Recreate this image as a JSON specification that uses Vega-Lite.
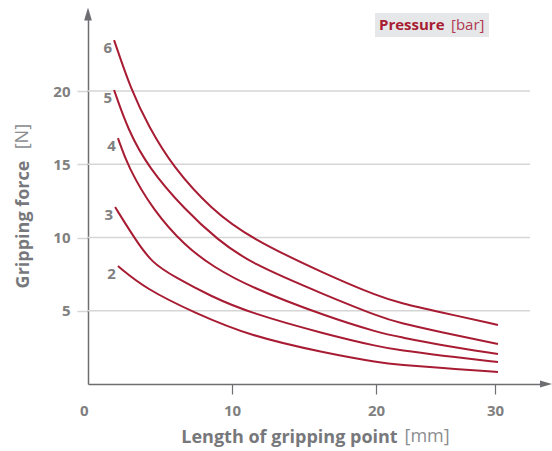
{
  "$schema": "https://vega.github.io/schema/vega-lite/v6.json",
  "width": 458,
  "height": 370,
  "autosize": "none",
  "padding": {"left": 88, "top": 14, "right": 6, "bottom": 67},
  "background": "white",
  "config": {"view": {"stroke": null}, "font": "Open Sans"},
  "datasets": {
    "curves": [
      {"p": "6", "x": 1.81, "y": 23.48}, {"p": "6", "x": 2.99, "y": 20.07}, {"p": "6", "x": 4.2, "y": 17.6}, {"p": "6", "x": 5.9, "y": 14.81}, {"p": "6", "x": 8.61, "y": 11.88}, {"p": "6", "x": 11.25, "y": 9.97}, {"p": "6", "x": 16.46, "y": 7.51}, {"p": "6", "x": 20.34, "y": 5.94}, {"p": "6", "x": 22.02, "y": 5.53}, {"p": "6", "x": 25.38, "y": 4.91}, {"p": "6", "x": 30.25, "y": 4.03},
      {"p": "5", "x": 1.81, "y": 20.07}, {"p": "5", "x": 2.78, "y": 17.34}, {"p": "5", "x": 4.17, "y": 14.81}, {"p": "5", "x": 6.74, "y": 11.88}, {"p": "5", "x": 9.0, "y": 9.85}, {"p": "5", "x": 11.25, "y": 8.26}, {"p": "5", "x": 16.46, "y": 6.08}, {"p": "5", "x": 20.34, "y": 4.57}, {"p": "5", "x": 22.02, "y": 4.16}, {"p": "5", "x": 25.38, "y": 3.55}, {"p": "5", "x": 30.25, "y": 2.73},
      {"p": "4", "x": 2.08, "y": 16.79}, {"p": "4", "x": 2.78, "y": 14.81}, {"p": "4", "x": 4.51, "y": 11.88}, {"p": "4", "x": 6.74, "y": 9.42}, {"p": "4", "x": 8.7, "y": 8.0}, {"p": "4", "x": 11.25, "y": 6.62}, {"p": "4", "x": 16.46, "y": 4.64}, {"p": "4", "x": 20.34, "y": 3.48}, {"p": "4", "x": 22.02, "y": 3.21}, {"p": "4", "x": 25.38, "y": 2.66}, {"p": "4", "x": 30.25, "y": 2.05},
      {"p": "3", "x": 1.88, "y": 12.08}, {"p": "3", "x": 3.26, "y": 9.9}, {"p": "3", "x": 4.44, "y": 8.26}, {"p": "3", "x": 6.04, "y": 7.3}, {"p": "3", "x": 8.5, "y": 6.0}, {"p": "3", "x": 11.25, "y": 4.85}, {"p": "3", "x": 16.46, "y": 3.41}, {"p": "3", "x": 20.34, "y": 2.53}, {"p": "3", "x": 22.02, "y": 2.3}, {"p": "3", "x": 25.38, "y": 1.95}, {"p": "3", "x": 30.25, "y": 1.5},
      {"p": "2", "x": 2.08, "y": 8.05}, {"p": "2", "x": 4.03, "y": 6.48}, {"p": "2", "x": 7.43, "y": 4.85}, {"p": "2", "x": 11.25, "y": 3.28}, {"p": "2", "x": 16.46, "y": 2.12}, {"p": "2", "x": 20.34, "y": 1.45}, {"p": "2", "x": 22.02, "y": 1.32}, {"p": "2", "x": 25.38, "y": 1.1}, {"p": "2", "x": 30.25, "y": 0.82}
    ],
    "grid": [{"g": 5}, {"g": 10}, {"g": 15}, {"g": 20}]
  },
  "layer": [
    {
      "data": {"name": "grid"},
      "mark": {"type": "rule", "color": "#d6d6d6", "strokeWidth": 1.5},
      "encoding": {
        "y": {
          "field": "g", "type": "quantitative",
          "scale": {"domain": [0, 25.26], "nice": false, "zero": false},
          "axis": {
            "title": "Gripping force",
            "values": [5, 10, 15, 20],
            "grid": false,
            "domainColor": "#6d6e71", "domainWidth": 1.5,
            "tickColor": "#d6d6d6", "tickSize": 11, "tickWidth": 1.5,
            "labelFont": "Open Sans", "labelFontWeight": "bold", "labelFontSize": 15, "labelColor": "#808080", "labelPadding": 7,
            "titleFont": "Open Sans", "titleFontWeight": "bold", "titleFontSize": 18, "titleColor": "#77787b",
            "titleX": -60, "titleY": 210, "titleBaseline": "alphabetic", "titleAlign": "center", "titleAngle": 270
          }
        },
        "x": {
          "datum": 0, "type": "quantitative",
          "scale": {"domain": [0, 10, 20, 30, 34.29], "range": [0, 144, 288, 407, 458], "nice": false, "zero": false},
          "axis": {
            "title": "Length of gripping point",
            "values": [0, 10, 20, 30],
            "grid": false,
            "domainColor": "#6d6e71", "domainWidth": 1.5,
            "tickColor": "#6d6e71", "tickSize": 10, "tickWidth": 1.2,
            "tickOpacity": {"condition": {"test": "datum.value === 0", "value": 0}, "value": 1},
            "labelAlign": {"condition": {"test": "datum.value === 0", "value": "right"}, "value": "center"},
            "labelFont": "Open Sans", "labelFontWeight": "bold", "labelFontSize": 15, "labelColor": "#808080", "labelPadding": 9,
            "titleFont": "Open Sans", "titleFontWeight": "bold", "titleFontSize": 18, "titleColor": "#77787b",
            "titleX": 201, "titleY": 58, "titleBaseline": "alphabetic", "titleAlign": "center"
          }
        },
        "x2": {"datum": 32.94}
      }
    },
    {
      "data": {"name": "curves"},
      "mark": {"type": "line", "strokeWidth": 2, "interpolate": "basis"},
      "encoding": {
        "x": {"field": "x", "type": "quantitative"},
        "y": {"field": "y", "type": "quantitative"},
        "detail": {"field": "p"},
        "color": {
          "datum": "[bar]", "type": "nominal",
          "scale": {"range": ["#a81c33"]},
          "legend": {
            "orient": "none", "legendX": 287, "legendY": -1,
            "title": "Pressure", "titleOrient": "left",
            "titleFont": "Open Sans", "titleFontSize": 15, "titleFontWeight": "bold", "titleColor": "#a81c33", "titleBaseline": "middle", "titlePadding": 5,
            "labelFont": "Open Sans", "labelFontSize": 15, "labelColor": "#b03a50", "labelOffset": -14,
            "symbolSize": 0, "symbolStrokeWidth": 0, "symbolOpacity": 0,
            "fillColor": "#e6e7e8", "padding": 4, "cornerRadius": 0
          }
        }
      }
    },
    {
      "data": {"name": "curves"},
      "transform": [
        {"joinaggregate": [{"op": "min", "field": "x", "as": "x0"}], "groupby": ["p"]},
        {"filter": "datum.x === datum.x0"}
      ],
      "mark": {"type": "text", "align": "right", "baseline": "middle", "dx": -2, "dy": 8, "font": "Open Sans", "fontWeight": "bold", "fontSize": 15, "color": "#808080"},
      "encoding": {
        "x": {"field": "x", "type": "quantitative"},
        "y": {"field": "y", "type": "quantitative"},
        "text": {"field": "p"}
      }
    },
    {
      "data": {"values": [{}]},
      "mark": {"type": "text", "text": "[N]", "angle": 270, "align": "center", "baseline": "alphabetic", "font": "Open Sans", "fontSize": 18, "color": "#8c8d90"},
      "encoding": {"x": {"datum": -4.17, "type": "quantitative"}, "y": {"datum": 16.89, "type": "quantitative"}}
    },
    {
      "data": {"values": [{}]},
      "mark": {"type": "text", "text": "[mm]", "align": "left", "baseline": "alphabetic", "font": "Open Sans", "fontSize": 18, "color": "#8c8d90"},
      "encoding": {"x": {"datum": 22.4, "type": "quantitative"}, "y": {"datum": -3.96, "type": "quantitative"}}
    },
    {
      "data": {"values": [{}]},
      "mark": {"type": "point", "shape": "M0,-1L-0.6,1L0.6,1Z", "filled": true, "size": 169, "color": "#6d6e71", "opacity": 1},
      "encoding": {"x": {"datum": 0, "type": "quantitative"}, "y": {"datum": 25.26, "type": "quantitative"}}
    },
    {
      "data": {"values": [{}]},
      "mark": {"type": "point", "shape": "M1,0L-1,-0.6L-1,0.6Z", "filled": true, "size": 144, "color": "#6d6e71", "opacity": 1},
      "encoding": {"x": {"datum": 34.29, "type": "quantitative"}, "y": {"datum": 0, "type": "quantitative"}}
    }
  ]
}
